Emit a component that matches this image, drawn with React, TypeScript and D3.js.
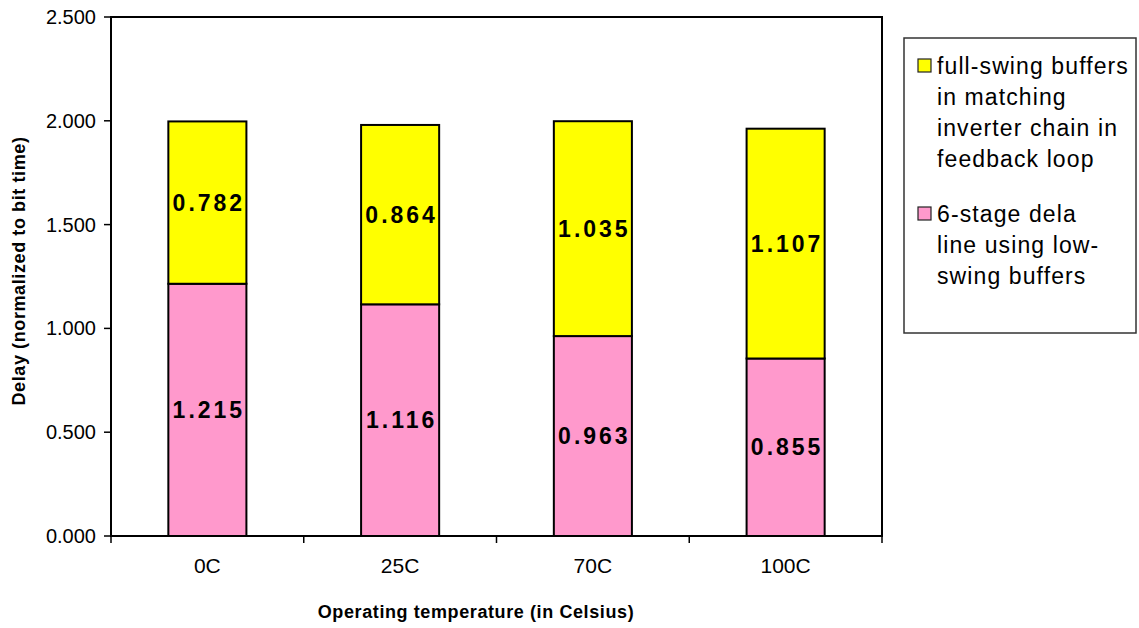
import React from "react";
import * as d3 from "d3";

const categories = ["0C", "25C", "70C", "100C"];
const lowSwing = [1.215, 1.116, 0.963, 0.855];
const fullSwing = [0.782, 0.864, 1.035, 1.107];
const yTicks = [0, 0.5, 1.0, 1.5, 2.0, 2.5];
const seriesNames = [
  ["full-swing buffers", "in matching", "inverter chain in", "feedback loop"],
  ["6-stage dela", "line using low-", "swing buffers"],
];
const seriesColors = ["#FFFF00", "#FF99CC"];

export default function App() {
  const W = 1139, H = 628;
  const left = 111, right = 882, top = 17, bottom = 536;
  const x = d3.scaleBand<string>().domain(categories).range([left, right]).paddingInner(0.595).paddingOuter(0.2975);
  const y = d3.scaleLinear().domain([0, 2.5]).range([bottom, top]);
  const font = "Liberation Sans, Arial, sans-serif";
  const band = (right - left) / categories.length;
  return (
    <svg width={W} height={H} style={{ position: "absolute", left: 0, top: 0 }} fontFamily={font}>
      <rect x={0} y={0} width={W} height={H} fill="#fff" />
      <rect x={left} y={top} width={right - left} height={bottom - top} fill="none" stroke="#000" strokeWidth={2} />
      {yTicks.map((t) => (
        <g key={t}>
          <line x1={left - 7} x2={left} y1={y(t)} y2={y(t)} stroke="#000" strokeWidth={1.5} />
          <text x={96} y={y(t)} dy="0.35em" textAnchor="end" fontSize={20}>
            {d3.format(".3f")(t)}
          </text>
        </g>
      ))}
      {d3.range(categories.length + 1).map((i) => (
        <line key={i} x1={left + i * band} x2={left + i * band} y1={bottom} y2={bottom + 7} stroke="#000" strokeWidth={1.5} />
      ))}
      {categories.map((c, i) => {
        const bx = x(c)!;
        const bw = x.bandwidth();
        const total = lowSwing[i] + fullSwing[i];
        return (
          <g key={c}>
            <rect x={bx} y={y(lowSwing[i])} width={bw} height={y(0) - y(lowSwing[i])} fill={seriesColors[1]} stroke="#000" strokeWidth={2} />
            <rect x={bx} y={y(total)} width={bw} height={y(lowSwing[i]) - y(total)} fill={seriesColors[0]} stroke="#000" strokeWidth={2} />
            <text x={bx + bw / 2} dx={1.5} y={y(lowSwing[i] / 2)} dy="0.35em" textAnchor="middle" fontSize={23} fontWeight="bold" letterSpacing={3}>
              {d3.format(".3f")(lowSwing[i])}
            </text>
            <text x={bx + bw / 2} dx={1.5} y={y(lowSwing[i] + fullSwing[i] / 2)} dy="0.35em" textAnchor="middle" fontSize={23} fontWeight="bold" letterSpacing={3}>
              {d3.format(".3f")(fullSwing[i])}
            </text>
            <text x={bx + bw / 2} y={573} textAnchor="middle" fontSize={21}>{c}</text>
          </g>
        );
      })}
      <text transform={`translate(25,${271}) rotate(-90)`} textAnchor="middle" fontSize={18} fontWeight="bold" letterSpacing={0.6}>
        Delay (normalized to bit time)
      </text>
      <text x={476} y={618} textAnchor="middle" fontSize={18} fontWeight="bold" letterSpacing={0.6}>
        Operating temperature (in Celsius)
      </text>
      <rect x={904} y={38} width={232} height={295} fill="#fff" stroke="#333" strokeWidth={1.5} />
      {seriesNames.map((lines, s) => {
        const y0 = s === 0 ? 66 : 214;
        return (
          <g key={s}>
            <rect x={918} y={y0 - 7} width={13} height={13} fill={seriesColors[s]} stroke="#222" strokeWidth={1.2} />
            {lines.map((l, j) => (
              <text key={j} x={937} y={y0 + j * 31} dy="0.35em" fontSize={23} letterSpacing={1.1}>{l}</text>
            ))}
          </g>
        );
      })}
    </svg>
  );
}
